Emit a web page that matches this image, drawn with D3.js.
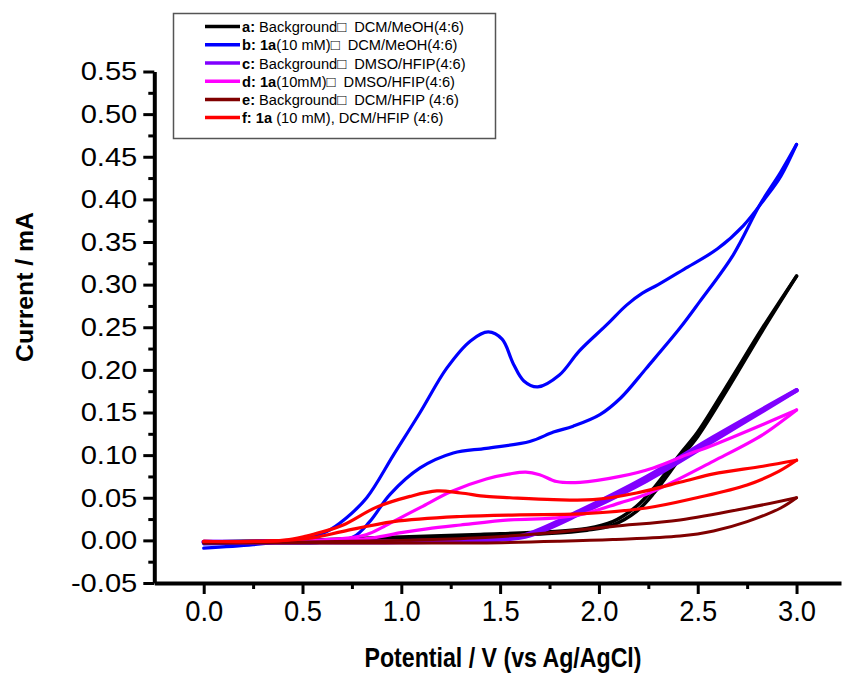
<!DOCTYPE html>
<html>
<head>
<meta charset="utf-8">
<script src="https://cdn.jsdelivr.net/npm/d3@7"></script>
<style>
  body { margin: 0; background: #fff; }
  text { font-family: "Liberation Sans", Arial, sans-serif; }
</style>
</head>
<body>
<script>
// potentials (V) and currents (mA), forward scan then reverse scan
const aV = [0, 0.5, 1.0, 1.4, 1.74, 1.94, 2.07, 2.19, 2.28, 2.41, 2.5, 2.66, 2.83, 3.0, 2.83, 2.66, 2.5, 2.41, 2.28, 2.19, 2.07, 1.94, 1.74, 1.4, 1.0, 0.5, 0]
const aI = [-0.002, 0.0, 0.002, 0.005, 0.008, 0.012, 0.018, 0.034, 0.056, 0.096, 0.122, 0.181, 0.247, 0.31, 0.25, 0.186, 0.127, 0.101, 0.062, 0.04, 0.022, 0.014, 0.01, 0.007, 0.004, 0.0, -0.002]

const bV = [0, 0.25, 0.5, 0.62, 0.72, 0.825, 0.96, 1.095, 1.23, 1.35, 1.44, 1.51, 1.567, 1.62, 1.69, 1.8, 1.9, 2.04, 2.14, 2.22, 2.3, 2.43, 2.6, 2.73, 2.84, 2.92, 3.0, 2.92, 2.815, 2.68, 2.51, 2.41, 2.24, 2.11, 2.005, 1.87, 1.77, 1.65, 1.43, 1.263, 1.095, 0.943, 0.84, 0.757, 0.6, 0.3, 0]
const bI = [-0.009, -0.005, 0.002, 0.01, 0.026, 0.05, 0.1, 0.15, 0.202, 0.234, 0.2445, 0.236, 0.207, 0.187, 0.18, 0.194, 0.222, 0.253, 0.276, 0.29, 0.3, 0.318, 0.342, 0.369, 0.401, 0.427, 0.4645, 0.432, 0.394, 0.335, 0.28, 0.249, 0.202, 0.167, 0.1475, 0.134, 0.127, 0.116, 0.108, 0.1025, 0.085, 0.054, 0.022, 0.004, -0.002, -0.003, -0.004]

const cV = [0, 0.5, 1.0, 1.4, 1.55, 1.65, 1.9, 2.24, 2.58, 3.0, 2.58, 2.24, 1.9, 1.65, 1.5, 1.0, 0.5, 0]
const cI = [-0.002, -0.002, -0.001, 0.0, 0.003, 0.008, 0.034, 0.074, 0.121, 0.176, 0.117, 0.07, 0.031, 0.006, 0.001, -0.002, -0.002, -0.002]

const dV = [0, 0.5, 0.7, 0.825, 0.91, 1.0, 1.1, 1.25, 1.43, 1.55, 1.63, 1.7, 1.786, 1.905, 2.107, 2.275, 2.44, 2.58, 2.83, 3.0, 2.83, 2.58, 2.24, 2.107, 1.905, 1.77, 1.55, 1.3, 1.13, 1.0, 0.857, 0.7, 0.5, 0]
const dI = [-0.002, 0.0, 0.002, 0.007, 0.016, 0.027, 0.039, 0.057, 0.072, 0.078, 0.08, 0.077, 0.069, 0.068, 0.075, 0.085, 0.1, 0.112, 0.136, 0.153, 0.124, 0.093, 0.054, 0.044, 0.03, 0.026, 0.024, 0.018, 0.0135, 0.009, 0.003, 0.0, -0.001, -0.002]

const eV = [0, 0.5, 1.0, 1.4, 1.8, 2.07, 2.41, 2.58, 2.75, 2.92, 3.0, 2.75, 2.41, 2.07, 1.736, 1.4, 1.0, 0.5, 0]
const eI = [-0.003, -0.003, -0.003, -0.003, -0.001, 0.001, 0.005, 0.011, 0.022, 0.038, 0.05, 0.038, 0.024, 0.0164, 0.0086, 0.003, 0.0, -0.002, -0.003]

const fV = [0, 0.4, 0.52, 0.6, 0.706, 0.875, 1.044, 1.18, 1.3, 1.43, 1.55, 1.77, 1.97, 2.19, 2.44, 2.58, 2.83, 3.0, 2.91, 2.75, 2.495, 2.24, 1.905, 1.6, 1.3, 0.96, 0.706, 0.55, 0.3, 0]
const fI = [-0.001, 0.0, 0.005, 0.01, 0.018, 0.039, 0.0516, 0.058, 0.0556, 0.0516, 0.05, 0.0477, 0.0477, 0.0556, 0.07, 0.078, 0.087, 0.094, 0.081, 0.065, 0.05, 0.038, 0.031, 0.03, 0.028, 0.022, 0.0106, 0.003, -0.001, -0.001]

const xTicks = [0, 0.5, 1.0, 1.5, 2.0, 2.5, 3.0]
const yTicks = [-0.05, 0, 0.05, 0.10, 0.15, 0.20, 0.25, 0.30, 0.35, 0.40, 0.45, 0.50, 0.55]

const legendKeys = ['a:', 'b: 1a', 'c:', 'd: 1a', 'e:', 'f: 1a']
const legendText = [' Background\u25A1\u00a0 DCM/MeOH(4:6)', '(10 mM)\u25A1\u00a0 DCM/MeOH(4:6)', ' Background\u25A1\u00a0 DMSO/HFIP(4:6)',
  '(10mM)\u25A1\u00a0 DMSO/HFIP(4:6)', ' Background\u25A1\u00a0 DCM/HFIP (4:6)', ' (10 mM), DCM/HFIP (4:6)']

const colors = ['#000000', '#0000ff', '#8000ff', '#ff00ff', '#800000', '#ff0000']
const widths = [3.5, 3.2, 4.5, 3.2, 3, 3.2]

// each scan split into its forward and reverse branch
const series = [[aV, aI], [bV, bI], [cV, cI], [dV, dI], [eV, eI], [fV, fI]].map(([v, i]) => {
  let pts = v.map((d, k) => ({ v: d, i: i[k] }))
  let top = d3.maxIndex(v)
  return [pts.slice(0, top + 1), pts.slice(top).reverse()]
})

const W = 844, H = 673

let x = d3.scaleLinear().domain([-0.25, 3.225]).range([154.3, 841])
let y = d3.scaleLinear().domain([-0.05, 0.55]).range([583, 71.5])

let svg = d3.select('body').append('svg')
  .attr('width', W)
  .attr('height', H)

function stretch(sel, k) {
  sel.each(function () {
    let w = this.getComputedTextLength()
    d3.select(this).attr('textLength', w * k).attr('lengthAdjust', 'spacingAndGlyphs')
  })
}

// curves
let line = d3.line()
  .x((d) => x(d.v))
  .y((d) => y(d.i))
  .curve(d3.curveCatmullRom.alpha(0.5))

let scans = svg.append('g')
  .selectAll('g')
  .data(series)
  .enter().append('g')
    .attr('fill', 'none')
    .attr('stroke', (d, k) => colors[k])
    .attr('stroke-width', (d, k) => widths[k])
    .attr('stroke-linejoin', 'round')
    .attr('stroke-linecap', 'round')

scans.selectAll('path')
  .data((d) => d)
  .enter().append('path')
    .attr('d', line)

// minor ticks
svg.append('g')
  .attr('transform', 'translate(' + [x(-0.25), 0] + ')')
  .call(d3.axisLeft(y).tickValues(d3.range(-0.025, 0.55, 0.05)).tickSize(6).tickFormat(''))
  .call((g) => g.select('.domain').remove())
  .selectAll('line').attr('stroke-width', 3)

svg.append('g')
  .attr('transform', 'translate(' + [0, y(-0.05)] + ')')
  .call(d3.axisBottom(x).tickValues(d3.range(0.25, 3.2, 0.5)).tickSize(6).tickFormat(''))
  .call((g) => g.select('.domain').remove())
  .selectAll('line').attr('stroke-width', 3)

// major axes
let yAxis = svg.append('g')
  .attr('transform', 'translate(' + [x(-0.25), 0] + ')')
  .call(d3.axisLeft(y).tickValues(yTicks).tickSize(11).tickSizeOuter(0).tickPadding(6)
    .tickFormat((d) => (Math.round(d * 100) / 100).toFixed(2)))
yAxis.select('.domain').attr('stroke-width', 4)
yAxis.selectAll('line').attr('stroke-width', 3)
yAxis.selectAll('text')
  .attr('font-size', 26)
  .attr('fill', '#000')
  .call(stretch, 1.12)

let xAxis = svg.append('g')
  .attr('transform', 'translate(' + [0, y(-0.05)] + ')')
  .call(d3.axisBottom(x).tickValues(xTicks).tickSize(11).tickSizeOuter(0).tickPadding(6)
    .tickFormat((d) => d.toFixed(1)))
xAxis.select('.domain').attr('stroke-width', 4)
xAxis.selectAll('line').attr('stroke-width', 3)
xAxis.selectAll('text')
  .attr('font-size', 30)
  .attr('fill', '#000')
  .call(stretch, 0.91)

// axis titles
svg.append('text')
  .attr('x', 503)
  .attr('y', 667)
  .attr('text-anchor', 'middle')
  .attr('font-size', 28)
  .attr('font-weight', 'bold')
  .attr('textLength', 277)
  .attr('lengthAdjust', 'spacingAndGlyphs')
  .text('Potential / V (vs Ag/AgCl)')

svg.append('text')
  .attr('transform', 'translate(33,287) rotate(-90)')
  .attr('text-anchor', 'middle')
  .attr('font-size', 24)
  .attr('font-weight', 'bold')
  .attr('textLength', 150)
  .attr('lengthAdjust', 'spacingAndGlyphs')
  .text('Current / mA')

// legend
let legend = svg.append('g')

legend.append('rect')
  .attr('x', 173.5)
  .attr('y', 13.5)
  .attr('width', 322)
  .attr('height', 125)
  .attr('fill', '#fff')
  .attr('stroke', '#555')
  .attr('stroke-width', 1.5)

let rows = legend.selectAll('.row')
  .data(legendKeys)
  .enter().append('g')
    .attr('class', 'row')
    .attr('transform', (d, k) => 'translate(0,' + (26.6 + k * 18.2) + ')')

rows.append('line')
  .attr('x1', 205)
  .attr('x2', 240)
  .attr('stroke', (d, k) => colors[k])
  .attr('stroke-width', 3.5)

let labels = rows.append('text')
  .attr('x', 242)
  .attr('y', 5.5)
  .attr('font-size', 15.5)

labels.append('tspan')
  .attr('font-weight', 'bold')
  .text((d) => d)
labels.append('tspan')
  .text((d, k) => legendText[k])

let k0 = 222 / labels.node().getComputedTextLength()
labels.call(stretch, k0)
</script>
</body>
</html>
